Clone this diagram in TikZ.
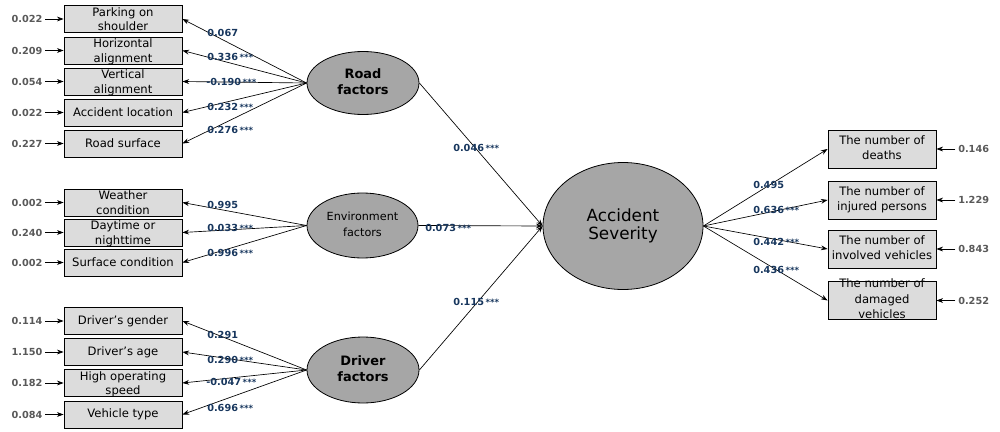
\documentclass[tikz,border=0pt]{standalone}
\usepackage{fontspec}
\setmainfont{DejaVu Sans}
\usetikzlibrary{arrows.meta,shapes.geometric}
\definecolor{lblc}{RGB}{23,54,93}
\definecolor{errc}{RGB}{89,89,89}
\definecolor{boxfill}{RGB}{220,220,220}
\definecolor{ellfill}{RGB}{166,166,166}
\newcommand\stk[2][-3.5pt]{\raisebox{#1}[0pt][0pt]{\begin{tabular}{@{}c@{}}#2\end{tabular}}}
\newcommand\sig{\,{\fontsize{6.5}{7}\selectfont ***}}
\begin{document}
\begin{tikzpicture}[x=0.75pt,y=-0.75pt,
 obs/.style={draw, fill=boxfill, minimum width=88.5pt, minimum height=20.25pt, inner sep=0pt, font=\fontsize{8.7}{11}\selectfont, line width=0.6pt},
 obsr/.style={obs, minimum width=81pt, minimum height=28.5pt, font=\fontsize{8.7}{11.5}\selectfont},
 lat/.style={draw, ellipse, fill=ellfill, inner sep=0pt, line width=0.6pt},
 coef/.style={anchor=west, inner sep=0pt, text=lblc, font=\bfseries\fontsize{7.3}{8}\selectfont},
 errv/.style={inner sep=0pt, text=errc, font=\bfseries\fontsize{7.3}{8}\selectfont},
 arr/.style={-{Stealth[length=5pt,width=3.6pt]}, line width=0.5pt},
]
\useasboundingbox (0,0) rectangle (1000,432);

% latent variables
\node[lat, minimum width=84pt, minimum height=47.25pt] (road) at (363,83)
  {\stk[-3pt]{\bfseries\fontsize{9.7}{15}\selectfont Road\\\bfseries\fontsize{9.7}{15}\selectfont factors}};
\node[lat, minimum width=83.25pt, minimum height=48.75pt] (env) at (362.5,225.5)
  {\stk[-2.5pt]{\fontsize{8.4}{11}\selectfont Environment\\\fontsize{8.4}{11}\selectfont factors}};
\node[lat, minimum width=84pt, minimum height=49.5pt] (drv) at (363,370)
  {\stk[-3pt]{\bfseries\fontsize{9.7}{15}\selectfont Driver\\\bfseries\fontsize{9.7}{15}\selectfont factors}};
\node[lat, minimum width=120pt, minimum height=95.25pt] (sev) at (623,226)
  {\stk[-3pt]{\fontsize{12.6}{16.5}\selectfont Accident\\\fontsize{12.6}{16.5}\selectfont Severity}};

% road indicators
\node[obs] (r1) at (123,19) {\stk{Parking on\\shoulder}};
\node[obs] (r2) at (123,50.5) {\stk{Horizontal\\alignment}};
\node[obs] (r3) at (123,81.5) {\stk{Vertical\\alignment}};
\node[obs] (r4) at (123,112.5) {Accident location};
\node[obs] (r5) at (123,143.5) {Road surface};
% environment indicators
\node[obs] (e1) at (123,202.5) {\stk{Weather\\condition}};
\node[obs] (e2) at (123,232.5) {\stk{Daytime or\\nighttime}};
\node[obs] (e3) at (123,262.5) {Surface condition};
% driver indicators
\node[obs] (d1) at (123,321) {Driver's gender};
\node[obs] (d2) at (123,352) {Driver's age};
\node[obs] (d3) at (123,383) {\stk{High operating\\speed}};
\node[obs] (d4) at (123,414.5) {Vehicle type};
% severity indicators
\node[obsr] (s1) at (882,149) {\stk[-2pt]{The number of\\deaths}};
\node[obsr] (s2) at (882,200) {\stk[-2pt]{The number of\\injured persons}};
\node[obsr] (s3) at (882,249) {\stk[-2pt]{The number of\\involved vehicles}};
\node[obsr] (s4) at (882,300.5) {\stk[-2pt]{The number of\\damaged\\vehicles}};

% error terms left
\foreach \n/\v/\y in {er1/0.022/19, er2/0.209/50.5, er3/0.054/81.5, er4/0.022/112.5, er5/0.227/143.5,
                      ee1/0.002/202.5, ee2/0.240/232.5, ee3/0.002/262.5,
                      ed1/0.114/321, ed2/1.150/352, ed3/0.182/383, ed4/0.084/414.5}
  \node[errv] (\n) at (27,\y) {\v};
\foreach \e/\b in {er1/r1, er2/r2, er3/r3, er4/r4, er5/r5, ee1/e1, ee2/e2, ee3/e3, ed1/d1, ed2/d2, ed3/d3, ed4/d4}
  \draw[arr, shorten <=2pt] (\e.east) -- (\b.west);
% error terms right
\foreach \n/\v/\y in {es1/0.146/149, es2/1.229/200, es3/0.843/249, es4/0.252/300.5}
  \node[errv, anchor=west] (\n) at (958,\y) {\v};
\foreach \e/\b in {es1/s1, es2/s2, es3/s3, es4/s4}
  \draw[arr, shorten <=2pt] (\e.west) -- (\b.east);

% loadings
\foreach \b in {r1,r2,r3,r4,r5} \draw[arr] (road.west) -- (\b.east);
\foreach \b in {e1,e2,e3} \draw[arr] (env.west) -- (\b.east);
\foreach \b in {d1,d2,d3,d4} \draw[arr] (drv.west) -- (\b.east);
\foreach \b in {s1,s2,s3,s4} \draw[arr] (sev.east) -- (\b.west);
% structural paths
\draw[arr] (road.east) -- (sev.west);
\draw[arr] (env.east) -- (sev.west);
\draw[arr] (drv.east) -- (sev.west);

% coefficient labels
\node[coef] (c1) at (207,33) {0.067};
\node[coef] (c2) at (207,57) {0.336\sig};
\node[coef] (c3) at (206,82) {-0.190\sig};
\node[coef] (c4) at (207,107) {0.232\sig};
\node[coef] (c5) at (207,130) {0.276\sig};
\node[coef] (c6) at (207,205) {0.995};
\node[coef] (c7) at (207,228) {0.033\sig};
\node[coef] (c8) at (207,253) {0.996\sig};
\node[coef] (c9) at (207,335) {0.291};
\node[coef] (c10) at (207,360) {0.290\sig};
\node[coef] (c11) at (206,382) {-0.047\sig};
\node[coef] (c12) at (207,408) {0.696\sig};
\node[coef] (c13) at (453,148) {0.046\sig};
\node[coef] (c14) at (425,228) {0.073\sig};
\node[coef] (c15) at (453,302) {0.115\sig};
\node[coef] (c16) at (753,185) {0.495};
\node[coef] (c17) at (753,210) {0.636\sig};
\node[coef] (c18) at (753,242) {0.442\sig};
\node[coef] (c19) at (753,270) {0.436\sig};
\end{tikzpicture}
\end{document}
